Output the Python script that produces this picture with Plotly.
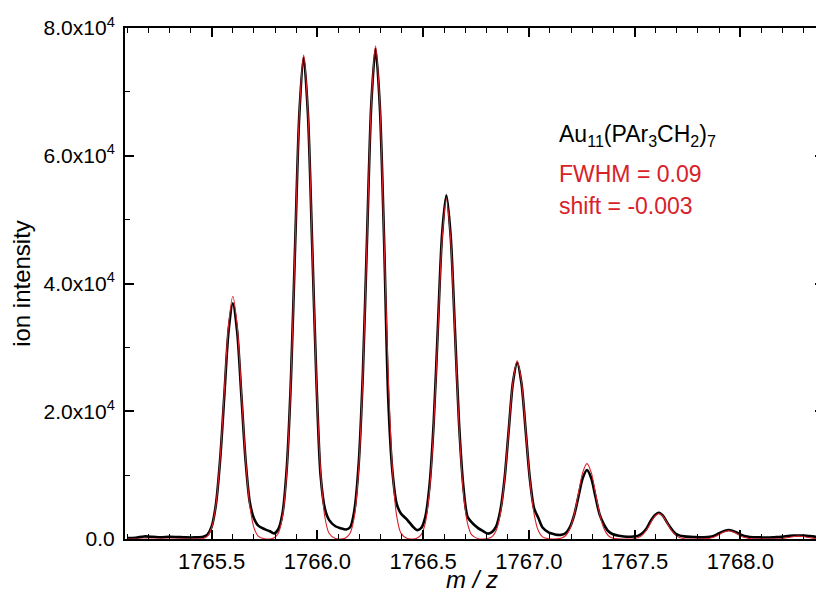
import plotly.graph_objects as go

# m/z sample positions
mz = [
    1765.10, 1765.14, 1765.18, 1765.22, 1765.26, 1765.30, 1765.34, 1765.38, 1765.42,
    1765.46, 1765.48, 1765.50, 1765.52, 1765.54, 1765.56, 1765.58, 1765.60, 1765.62, 1765.64, 1765.66, 1765.68, 1765.70, 1765.72, 1765.75, 1765.775,
    1765.795, 1765.815, 1765.835, 1765.855, 1765.875, 1765.895, 1765.915, 1765.935, 1765.955, 1765.975, 1765.995, 1766.015, 1766.035, 1766.055, 1766.085, 1766.11,
    1766.135, 1766.155, 1766.175, 1766.195, 1766.215, 1766.235, 1766.255, 1766.275, 1766.295, 1766.315, 1766.335, 1766.355, 1766.375, 1766.395, 1766.425, 1766.45,
    1766.47, 1766.49, 1766.51, 1766.53, 1766.55, 1766.57, 1766.59, 1766.61, 1766.63, 1766.65, 1766.67, 1766.69, 1766.71, 1766.73, 1766.76, 1766.785,
    1766.805, 1766.825, 1766.845, 1766.865, 1766.885, 1766.905, 1766.925, 1766.945, 1766.965, 1766.985, 1767.005, 1767.025, 1767.045, 1767.065, 1767.095, 1767.12,
    1767.135, 1767.155, 1767.175, 1767.195, 1767.215, 1767.235, 1767.255, 1767.275, 1767.295, 1767.315, 1767.335, 1767.355, 1767.375, 1767.395, 1767.425, 1767.45,
    1767.475, 1767.495, 1767.515, 1767.535, 1767.555, 1767.575, 1767.595, 1767.615, 1767.635, 1767.655, 1767.675, 1767.695, 1767.715, 1767.735, 1767.765, 1767.79,
    1767.805, 1767.825, 1767.845, 1767.865, 1767.885, 1767.905, 1767.925, 1767.945, 1767.965, 1767.985, 1768.005, 1768.025, 1768.045, 1768.065, 1768.095, 1768.12,
    1768.135, 1768.155, 1768.175, 1768.195, 1768.215, 1768.235, 1768.255, 1768.275, 1768.295, 1768.315, 1768.335, 1768.355, 1768.375, 1768.395,
    1768.42,
]

# measured spectrum (black)
measured = [
    150, 200, 400, 350, 250, 350, 300, 250, 250,
    339, 693, 1958, 5416, 12464, 22583, 32620, 36900, 32620, 22694, 12427, 5785, 3202, 2095, 1542, 1209,
    874, 1524, 4036, 11064, 25178, 46330, 66802, 75400, 66654, 46371, 25132, 10000, 4800, 3000, 2000, 1700,
    1500, 1850, 4506, 11602, 25921, 47402, 68191, 76800, 67891, 47232, 22000, 10500, 5500, 4000, 3000, 2000,
    1400, 1696, 3391, 8282, 18208, 33226, 47809, 53800, 47559, 33087, 18004, 8320, 3500, 2600, 1700, 1200,
    850, 1081, 1928, 4414, 9386, 17091, 24548, 27600, 24398, 16974, 9358, 4800, 3300, 1800, 1000, 750,
    650, 650, 950, 1912, 3825, 6710, 9547, 10800, 9547, 6642, 3814, 2300, 1250, 786, 500, 400,
    350, 400, 490, 854, 1557, 2759, 3674, 4100, 3624, 2522, 1553, 815, 528, 405, 331, 298,
    250, 260, 290, 400, 650, 1000, 1270, 1400, 1270, 1000, 640, 420, 320, 280, 250, 240,
    240, 250, 300, 350, 430, 500, 540, 550, 540, 510, 440, 360, 300, 260,
    250,
]

# simulated spectrum (red)
simulated = [
    0, 0, 0, 0, 0, 0, 0, 0, 0,
    91, 456, 1759, 5320, 12578, 23256, 33592, 38000, 33592, 23256, 12578, 5320, 1759, 456, 38, 4,
    182, 910, 3510, 10612, 25090, 46390, 67007, 75800, 67007, 46390, 25090, 10612, 3510, 910, 76, 8,
    185, 926, 3574, 10808, 25553, 47246, 68245, 77200, 68245, 47246, 25553, 10808, 3574, 926, 77, 8,
    128, 638, 2463, 7448, 17609, 32558, 47029, 53200, 47029, 32558, 17609, 7448, 2463, 638, 53, 5,
    67, 335, 1292, 3906, 9235, 17075, 24664, 27900, 24664, 17075, 9235, 3906, 1292, 335, 28, 3,
    28, 142, 546, 1652, 3906, 7222, 10431, 11800, 10431, 7222, 3906, 1652, 546, 142, 12, 1,
    10, 48, 185, 560, 1324, 2448, 3536, 4000, 3536, 2448, 1324, 560, 185, 48, 4, 0,
    3, 16, 60, 182, 430, 796, 1149, 1300, 1149, 796, 430, 182, 60, 16, 1, 0,
    1, 5, 21, 63, 149, 275, 398, 450, 398, 275, 149, 63, 21, 5,
    0,
]

x_ticks = [1765.5, 1766.0, 1766.5, 1767.0, 1767.5, 1768.0]
x_ticktext = ["1765.5", "1766.0", "1766.5", "1767.0", "1767.5", "1768.0"]
y_ticks = [0, 20000, 40000, 60000, 80000]
y_ticktext = ["0.0", "2.0x10<sup>4</sup>", "4.0x10<sup>4</sup>", "6.0x10<sup>4</sup>", "8.0x10<sup>4</sup>"]

FONT = "Liberation Sans, Arial, sans-serif"
RED = "#d8222a"

fig = go.Figure()
fig.add_trace(go.Scatter(x=mz, y=measured, mode="lines",
                         line=dict(color="black", width=2.6, shape="spline", smoothing=0.8),
                         showlegend=False))
fig.add_trace(go.Scatter(x=mz, y=simulated, mode="lines",
                         line=dict(color=RED, width=1.1, shape="spline", smoothing=0.8),
                         showlegend=False))

fig.update_layout(
    width=824, height=592,
    margin=dict(l=117, r=6, t=19, b=61),
    paper_bgcolor="white", plot_bgcolor="white",
    font=dict(family=FONT, size=16, color="black"),
    xaxis=dict(
        range=[1765.09, 1768.396], showgrid=False, zeroline=False,
        showline=True, linecolor="black", linewidth=2, mirror="ticks",
        ticks="inside", ticklen=9, tickwidth=1.6, tickcolor="black",
        tickvals=x_ticks, ticktext=x_ticktext, ticklabelstandoff=2,
        tickfont=dict(size=22, family=FONT),
        minor=dict(ticks="inside", dtick=0.1, tick0=1765.0, ticklen=5, tickwidth=1.4, tickcolor="black"),
    ),
    yaxis=dict(
        range=[0, 80000], showgrid=False, zeroline=False,
        showline=True, linecolor="black", linewidth=2, mirror="ticks",
        ticks="inside", ticklen=9, tickwidth=1.6, tickcolor="black",
        tickvals=y_ticks, ticktext=y_ticktext, ticklabelstandoff=4,
        tickfont=dict(size=21, family=FONT),
        minor=dict(ticks="inside", dtick=10000, ticklen=5, tickwidth=1.4, tickcolor="black"),
        title=dict(text="ion intensity", font=dict(size=24, family=FONT), standoff=6),
    ),
    annotations=[
        dict(xref="paper", yref="paper", x=0.497, y=-0.079, xanchor="center", yanchor="middle",
             text="<i>m / z</i>", showarrow=False,
             font=dict(size=24, family=FONT, color="black")),
        dict(xref="paper", yref="paper", x=0.618, y=0.79, xanchor="left", yanchor="middle",
             text="Au<sub>11</sub>(PAr<sub>3</sub>CH<sub>2</sub>)<sub>7</sub>", showarrow=False,
             font=dict(size=23, family=FONT, color="black")),
        dict(xref="paper", yref="paper", x=0.618, y=0.715, xanchor="left", yanchor="middle",
             text="FWHM = 0.09", showarrow=False, font=dict(size=23, family=FONT, color=RED)),
        dict(xref="paper", yref="paper", x=0.618, y=0.652, xanchor="left", yanchor="middle",
             text="shift = -0.003", showarrow=False, font=dict(size=23, family=FONT, color=RED)),
    ],
)

fig.write_html("out.html")
